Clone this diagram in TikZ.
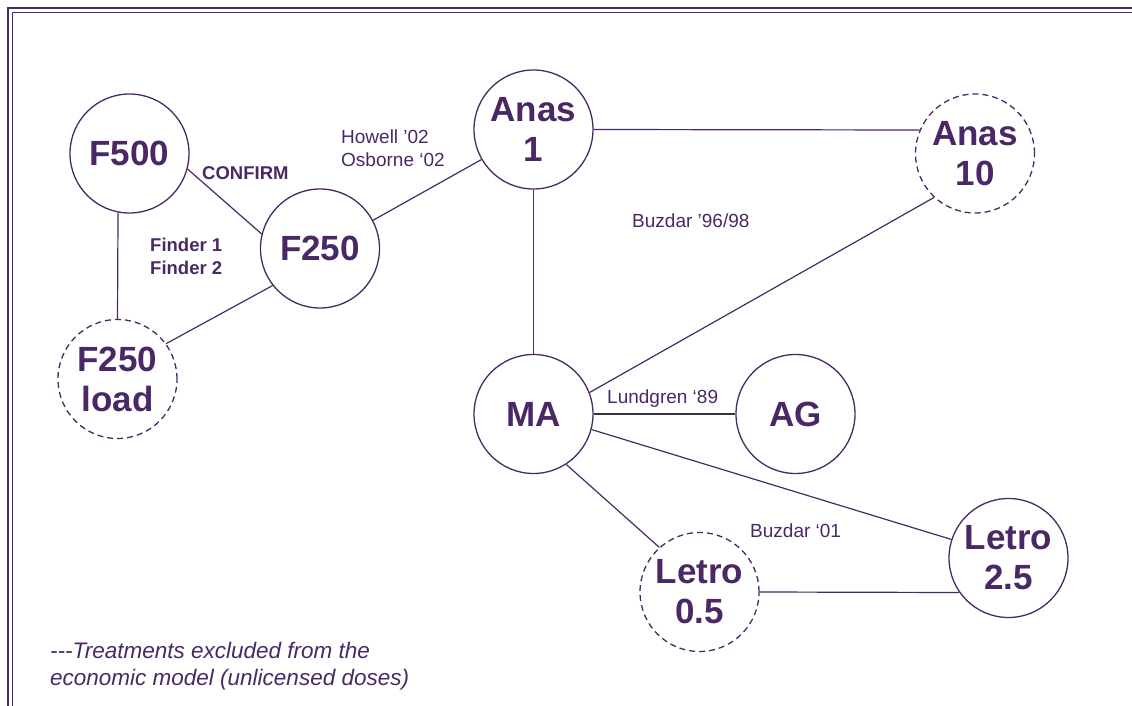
\documentclass[tikz,border=0pt]{standalone}
\usepackage{fontspec}
\setmainfont{Liberation Sans}
\definecolor{plum}{RGB}{74,40,102}
\definecolor{darkline}{RGB}{55,50,60}

\begin{document}
\begin{tikzpicture}[x=1pt,y=-1pt,
  trt/.style={circle,draw=plum,line width=1.3pt,minimum size=119pt,inner sep=0pt,
    text=plum,align=center,font=\fontsize{35}{40}\selectfont\bfseries},
  excl/.style={trt,dash pattern=on 6pt off 4pt},
  link/.style={draw=plum,line width=1.2pt},
  lbl/.style={text=plum,anchor=west,align=left,inner sep=0pt,font=\fontsize{19}{23}\selectfont}]
\useasboundingbox (0,0) rectangle (1132,706);
\draw [plum,line width=2pt] (1132,8) -- (8,8) -- (8,706);
\draw [plum,line width=1pt] (1132,12.5) -- (12.5,12.5) -- (12.5,706);

\node [trt] (F500) at (129.5,153.5) {F500};
\node [trt] (F250) at (320,248.5) {F250};
\node [excl] (F250load) at (117.5,379) {F250\\load};
\node [trt] (Anas1) at (533.5,129.5) {Anas\\1};
\node [excl] (Anas10) at (975,153.5) {Anas\\10};
\node [trt] (MA) at (533.5,414) {MA};
\node [trt] (AG) at (795.5,414) {AG};
\node [excl] (Letro05) at (699.5,592) {Letro\\0.5};
\node [trt] (Letro25) at (1008.5,558) {Letro\\2.5};

\draw [link] (F500.-15) -- (F250.166);
\draw [link] (F500.259) -- (F250load.north);
\draw [link] (F250load.36) -- (F250.218);
\draw [link] (F250.28) -- (Anas1.210);
\draw [link] (Anas1.east) -- (Anas10.157);
\draw [link] (Anas1.south) -- (MA.north);
\draw [link] (MA.21) -- (Anas10.227);
\draw [link,draw=darkline] (MA.east) -- (AG.west);
\draw [link] (MA.-15) -- (Letro25.162);
\draw [link] (MA.-57) -- (Letro05.132);
\draw [link] (Letro05.east) -- (Letro25.215);

\node [lbl,font=\fontsize{18.5}{23}\selectfont\bfseries] (confirm) at (202,173) {CONFIRM};
\node [lbl,font=\fontsize{18.5}{23}\selectfont\bfseries] (finder) at (150,256.5) {Finder 1\\Finder 2};
\node [lbl] (howell) at (341,148.5) {Howell '02\\Osborne `02};
\node [lbl] (buzdar9698) at (632,221) {Buzdar '96/98};
\node [lbl] (lundgren) at (607,399) {Lundgren `89};
\node [lbl] (buzdar01) at (750,531) {Buzdar `01};
\node [lbl,font=\fontsize{22.5}{27}\selectfont\itshape] (note) at (50,666.5)
  {{-}{-}{-}Treatments excluded from the\\economic model (unlicensed doses)};
\end{tikzpicture}
\end{document}
